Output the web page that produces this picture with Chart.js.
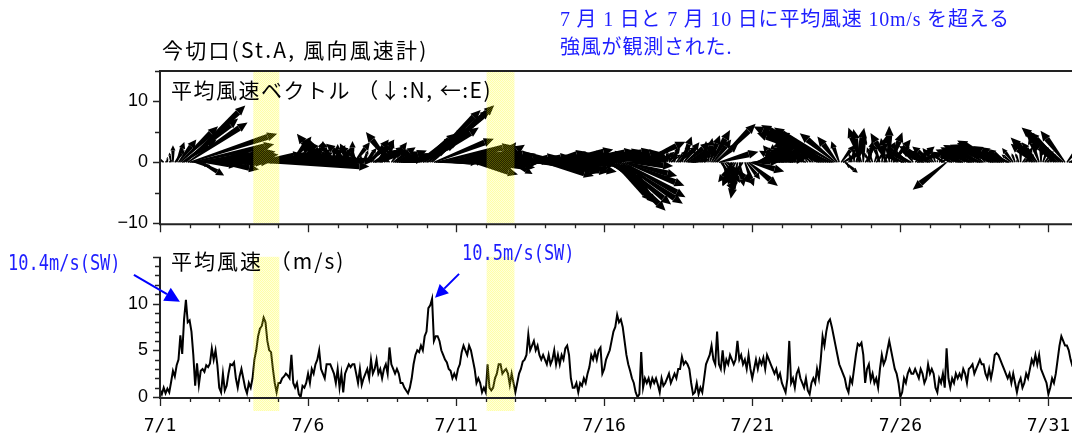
<!DOCTYPE html>
<html lang="ja">
<head>
<meta charset="utf-8">
<title>今切口 風向風速</title>
<script src="https://cdn.jsdelivr.net/npm/chart.js@4.4.0/dist/chart.umd.min.js"></script>
<style>
  html, body { margin: 0; padding: 0; background: #fff; }
  body { width: 1072px; height: 435px; overflow: hidden; position: relative;
         font-family: "Noto Sans CJK JP", sans-serif; }
  canvas { position: absolute; left: 0; }
  #vec { top: 0; }
  #spd { top: 234px; }
  .t { position: absolute; white-space: pre; color: #000; line-height: 1; }
  .title { left: 162px; top: 39px; font-size: 21px; letter-spacing: 2.2px; }
  .vtitle { left: 171px; top: 79px; font-size: 21px; letter-spacing: 1.5px; }
  .stitle { left: 171px; top: 250px; font-size: 21px; letter-spacing: 2px; }
  .note { left: 560px; top: 5px; font-size: 20px; line-height: 28px; color: #1e1eff;
          letter-spacing: 0.8px; font-family: "Liberation Serif", "Noto Sans CJK JP", serif; }
  .peak { font-family: "DejaVu Sans Mono", monospace; font-size: 17px; color: #1e1eff;
          transform: scale(1, 1.2); transform-origin: 0 0; }
  .p1 { left: 8px; top: 253px; }
  .p2 { left: 462px; top: 243px; }
</style>
</head>
<body>
<canvas id="vec" width="1090" height="246"></canvas>
<canvas id="spd" width="1090" height="201"></canvas>

<div class="t title">今切口(St.A, 風向風速計)</div>
<div class="t vtitle">平均風速ベクトル （↓:N, ←:E)</div>
<div class="t stitle">平均風速 （m/s)</div>
<div class="t note">7 月 1 日と 7 月 10 日に平均風速 10m/s を超える
強風が観測された.</div>
<div class="t peak p1">10.4m/s(SW)</div>
<div class="t peak p2">10.5m/s(SW)</div>

<script>
// 1.5-hourly mean wind speed (m/s), one row per day from 7/1
const windSpeed = [
  0.8,0.3,1.0,0.4,0.9,0.5,1.6,2.8,2.2,3.4,4.0,6.6,4.6,8.3,10.4,8.0,
  8.2,7.0,4.5,1.2,3.6,1.3,2.8,3.0,2.7,3.4,3.2,3.6,5.2,4.0,5.0,3.4,
  1.0,0.5,2.5,0.7,1.2,2.5,3.5,3.4,3.7,2.0,1.0,2.2,3.0,2.0,1.0,0.4,
  1.5,1.0,2.0,4.0,5.0,6.5,7.3,7.6,8.5,8.0,6.0,5.0,4.8,3.0,1.5,0.5,
  1.5,1.5,2.0,2.2,2.5,2.3,2.0,4.5,1.5,1.0,1.5,0.3,0.0,1.2,1.0,1.5,
  2.5,1.5,3.0,2.5,3.5,4.0,5.0,3.0,2.5,2.0,3.5,3.5,3.5,3.0,2.5,1.5,
  3.0,1.0,2.5,0.5,2.5,3.0,3.5,3.2,3.5,3.5,2.5,1.5,3.0,1.3,2.0,2.5,
  3.0,2.0,4.0,2.5,3.0,4.0,2.5,3.0,2.0,3.0,3.5,2.5,5.3,3.5,3.0,2.5,
  3.0,2.5,1.5,1.5,1.0,0.7,0.4,1.0,2.0,3.5,4.5,5.0,4.8,5.5,5.0,6.5,
  7.0,9.5,9.8,10.5,6.0,6.5,6.5,6.0,5.0,4.5,4.0,3.7,3.0,2.8,2.0,2.5,
  2.0,3.0,3.5,4.8,5.5,5.0,4.5,5.5,5.0,4.0,3.0,1.5,2.0,1.5,0.5,1.0,
  0.5,3.5,1.0,0.7,1.0,2.0,2.5,3.5,3.5,2.5,2.8,3.0,2.5,1.3,2.5,1.5,
  0.5,1.5,2.5,3.0,3.8,4.0,4.5,6.7,5.0,5.5,6.0,5.0,5.5,4.5,4.0,4.5,
  4.0,3.5,4.5,3.5,4.0,5.0,3.5,4.5,3.5,4.5,4.0,5.2,5.5,4.5,2.0,1.0,
  1.0,1.5,0.5,1.5,1.2,2.0,1.5,2.5,3.2,4.5,4.0,4.8,4.0,5.0,5.3,2.5,
  3.0,4.0,4.5,5.0,6.0,7.0,7.5,8.8,8.0,8.3,7.5,6.0,4.5,3.5,2.8,2.0,
  1.5,0.5,0.0,0.3,4.8,1.0,2.0,1.5,2.0,1.2,2.0,1.5,2.0,1.3,0.5,2.0,
  1.2,1.5,2.0,2.5,1.5,2.0,2.5,2.0,3.0,3.0,4.3,3.5,3.8,3.5,3.0,1.5,
  0.3,0.5,1.5,0.3,1.0,0.5,2.0,3.5,4.0,4.5,5.5,4.0,3.5,7.0,3.5,3.0,
  5.0,3.0,4.0,3.5,4.5,4.0,3.5,4.0,6.0,4.0,4.5,3.5,4.0,3.0,4.5,3.0,
  2.0,3.0,4.0,3.0,4.0,3.5,4.2,3.0,4.5,4.0,3.5,3.0,2.5,3.0,2.0,2.5,
  1.5,1.0,0.5,2.0,6.0,1.5,2.0,1.0,2.5,3.0,2.0,1.5,1.0,2.0,0.7,0.3,
  1.5,2.0,1.5,3.0,2.0,4.0,6.5,5.5,7.0,8.0,8.3,7.5,6.5,5.5,4.5,3.5,
  3.0,2.5,2.0,1.0,0.5,2.0,1.5,3.0,4.5,5.7,5.5,5.8,4.5,1.5,3.0,3.5,
  1.8,2.5,1.5,2.0,1.0,3.0,4.5,3.5,4.0,5.0,6.0,5.0,4.0,3.0,2.5,1.5,
  0.0,0.5,2.0,1.5,2.5,3.0,2.5,2.5,3.0,2.5,2.0,3.0,2.5,1.5,2.0,3.5,
  2.5,3.0,2.5,1.0,0.5,2.0,1.5,2.5,1.0,5.2,2.0,1.0,2.0,1.5,2.5,2.0,
  2.5,2.0,3.0,2.5,1.5,3.0,3.2,3.5,2.5,3.0,3.5,4.0,3.5,3.5,2.5,2.0,
  3.0,2.0,3.0,4.5,4.7,4.5,4.0,3.5,3.0,2.5,2.0,2.5,1.5,2.5,1.5,0.5,
  1.5,2.0,1.0,1.5,2.5,2.0,3.0,4.0,3.5,4.5,3.5,4.5,3.0,2.5,2.0,1.5,
  0.3,1.0,2.0,1.5,2.5,4.0,5.5,6.5,6.0,5.5,5.5,5.0,4.0,3.3,3.0,3.5
];

// 1.5-hourly wind direction (degrees, blowing from; N = 0, E = 90), one row per day
const windDir = [
  170,190,150,200,180,210,175,180,200,190,200,206,215,210,206,215,
  235,245,260,300,255,310,320,265,280,250,260,245,250,270,255,290,
  280,260,240,300,250,235,240,250,225,260,290,250,235,270,300,250,
  250,240,255,250,260,265,265,270,268,275,265,260,255,250,240,260,
  240,230,220,250,235,230,215,200,240,260,250,230,230,240,220,210,
  230,220,200,210,190,170,160,150,170,190,160,150,170,200,180,160,
  180,200,170,160,190,170,150,165,180,200,170,160,150,175,190,200,
  210,190,200,220,230,200,215,225,200,210,190,170,160,200,215,225,
  230,240,250,260,240,220,200,210,220,230,225,215,220,210,215,210,
  215,205,208,207,230,245,255,260,265,270,260,250,255,265,270,260,
  250,240,245,250,255,260,265,270,280,300,290,260,250,270,240,250,
  250,220,240,260,300,250,230,215,200,220,240,250,270,300,320,290,
  300,310,260,250,255,260,265,270,275,280,285,260,255,265,280,300,
  250,240,260,270,255,245,260,275,300,290,270,255,250,265,280,300,
  260,240,220,230,250,240,230,235,240,250,255,245,240,250,260,300,
  300,310,320,325,330,335,335,335,330,325,320,310,300,280,260,250,
  240,230,220,210,225,215,230,240,220,210,200,215,230,240,220,210,
  200,190,180,200,210,190,185,200,210,195,190,200,210,220,230,250,
  240,220,200,190,210,200,190,180,185,190,195,200,210,205,240,340,
  350,340,330,345,355,10,20,15,5,355,10,20,350,340,330,300,
  270,250,230,220,240,260,250,230,210,200,190,180,170,160,150,140,
  150,140,160,150,165,140,135,150,160,170,180,160,150,140,160,170,
  150,160,170,150,140,145,145,140,145,140,135,130,140,150,160,170,
  200,220,330,350,200,190,170,180,190,185,175,170,180,200,190,185,
  160,170,190,200,180,170,185,195,175,165,180,190,200,170,160,150,
  150,140,130,145,150,140,135,160,210,230,200,150,140,130,150,140,
  140,150,160,170,180,200,220,150,140,30,160,150,140,150,160,140,
  140,130,135,150,160,140,130,135,145,150,140,135,130,145,160,170,
  150,140,135,130,140,135,130,140,145,150,140,130,150,160,170,180,
  170,180,200,210,190,180,170,160,150,155,160,170,180,190,200,210,
  200,190,170,160,150,150,155,152,150,160,200,230,250,260,250,240
];

const samplesPerDay = 16;
const dayCount = 31;                       // 7/1 00:00 to 8/1 00:00
const tickDays = [1, 6, 11, 16, 21, 26, 31];
// periods shaded in yellow (days since 7/1 00:00)
const shadeSpans = [[3.15, 4.03], [11.03, 11.97]];
// peaks marked with a blue arrow: search range in days, pixel offsets of tip and tail
const peakNotes = [
  { from: 0, to: 2,  dx: -6, dy: 2,  tx: -46, ty: -27, head: 15 },
  { from: 8, to: 10, dx: 3,  dy: -1, tx: 24,  ty: -24, head: 13 }
];

// horizontal length of a vector, in days per m/s
const vecDaysPerMs = 0.44;

const times = windSpeed.map((_, i) => i / samplesPerDay);
const speedPoints = windSpeed.map((v, i) => ({ x: times[i], y: v }));
const vectorPoints = windSpeed.map((s, i) => {
  const d = windDir[i] * Math.PI / 180;
  const u = -s * Math.sin(d), v = -s * Math.cos(d);
  return { x: times[i], y: 0, tx: times[i] + u * vecDaysPerMs, ty: v };
});

function shadePattern(ctx) {
  const c = document.createElement('canvas');
  c.width = 2; c.height = 2;
  const g = c.getContext('2d');
  g.fillStyle = 'rgba(255,255,0,0.34)';
  g.fillRect(0, 0, 1, 1); g.fillRect(1, 1, 1, 1);
  g.fillStyle = 'rgba(255,255,0,0.14)';
  g.fillRect(1, 0, 1, 1); g.fillRect(0, 1, 1, 1);
  return ctx.createPattern(c, 'repeat');
}

const vectorArrows = {
  id: 'vectorArrows',
  afterDatasetsDraw(chart) {
    const { ctx, chartArea: a, scales: { x, y } } = chart;
    ctx.save();
    ctx.beginPath();
    ctx.rect(a.left, a.top, a.right - a.left, a.bottom - a.top);
    ctx.clip();
    ctx.fillStyle = '#000';
    chart.data.datasets[0].data.forEach(p => {
      const x0 = x.getPixelForValue(p.x), y0 = y.getPixelForValue(0);
      const x1 = x.getPixelForValue(p.tx), y1 = y.getPixelForValue(p.ty);
      const dx = x1 - x0, dy = y1 - y0, len = Math.hypot(dx, dy);
      if (len < 1) return;
      const ux = dx / len, uy = dy / len;
      const h = Math.min(10, len * 0.3), w = Math.min(4.5, h * 0.5);
      const sw = Math.min(3, 0.5 + len * 0.07);
      const bx = x1 - ux * h, by = y1 - uy * h;
      // leaf-shaped shaft, widest under the head
      ctx.beginPath();
      ctx.moveTo(x0 + uy * 0.7, y0 - ux * 0.7);
      ctx.lineTo(bx + uy * sw, by - ux * sw);
      ctx.lineTo(bx - uy * sw, by + ux * sw);
      ctx.lineTo(x0 - uy * 0.7, y0 + ux * 0.7);
      ctx.closePath();
      ctx.fill();
      ctx.beginPath();
      ctx.moveTo(x1, y1);
      ctx.lineTo(bx + uy * w, by - ux * w);
      ctx.lineTo(bx - uy * w, by + ux * w);
      ctx.closePath();
      ctx.fill();
    });
    ctx.restore();
  }
};

function shading(extraBelow) {
  return {
    id: 'shading',
    afterDatasetsDraw(chart) {
      const { ctx, chartArea: a, scales: { x } } = chart;
      ctx.save();
      ctx.fillStyle = shadePattern(ctx);
      shadeSpans.forEach(([s, e]) => {
        const x0 = x.getPixelForValue(s), x1 = x.getPixelForValue(e);
        ctx.fillRect(x0, a.top, x1 - x0, a.bottom - a.top + extraBelow);
      });
      ctx.restore();
    }
  };
}

function frame(opts) {
  return {
    id: 'frame',
    afterDatasetsDraw(chart) {
      const { ctx, chartArea: a, scales: { x, y } } = chart;
      ctx.save();
      ctx.strokeStyle = '#222';
      ctx.lineWidth = 2;
      ctx.beginPath();
      ctx.moveTo(a.left, a.top - (opts.top ? 1 : 0));
      ctx.lineTo(a.left, a.bottom + 1);
      ctx.lineTo(a.right, a.bottom + 1);
      if (opts.top) {
        ctx.moveTo(a.left - 1, a.top);
        ctx.lineTo(a.right, a.top);
      }
      ctx.stroke();
      ctx.lineWidth = 1.3;
      ctx.beginPath();
      for (let d = 0; d <= dayCount; d++) {
        const px = Math.round(x.getPixelForValue(d)) + 0.5;
        ctx.moveTo(px, a.bottom + 1);
        ctx.lineTo(px, a.bottom + 1 + (d % 5 === 0 ? 8 : 4));
      }
      for (let v = y.min; v <= y.max; v += opts.minorStep) {
        const py = Math.round(y.getPixelForValue(v)) + 0.5;
        const major = v % opts.majorStep === 0;
        ctx.moveTo(a.left - 1, py);
        ctx.lineTo(a.left - 1 - (major ? 6 : 4), py);
      }
      ctx.stroke();
      ctx.restore();
    }
  };
}

const peakArrows = {
  id: 'peakArrows',
  afterDatasetsDraw(chart) {
    const { ctx, scales: { x, y } } = chart;
    ctx.save();
    ctx.strokeStyle = '#0000ff';
    ctx.fillStyle = '#0000ff';
    ctx.lineWidth = 2;
    peakNotes.forEach(n => {
      let best = -1;
      windSpeed.forEach((v, i) => {
        if (times[i] >= n.from && times[i] < n.to && (best < 0 || v > windSpeed[best])) best = i;
      });
      const tipX = x.getPixelForValue(times[best]) + n.dx;
      const tipY = y.getPixelForValue(windSpeed[best]) + n.dy;
      const tailX = tipX + n.tx, tailY = tipY + n.ty;
      const len = Math.hypot(n.tx, n.ty), ux = -n.tx / len, uy = -n.ty / len;
      const bx = tipX - ux * n.head, by = tipY - uy * n.head, w = n.head * 0.5;
      ctx.beginPath();
      ctx.moveTo(tailX, tailY);
      ctx.lineTo(bx, by);
      ctx.stroke();
      ctx.beginPath();
      ctx.moveTo(tipX, tipY);
      ctx.lineTo(bx + uy * w, by - ux * w);
      ctx.lineTo(bx - uy * w, by + ux * w);
      ctx.closePath();
      ctx.fill();
    });
    ctx.restore();
  }
};

const tickFont = { family: '"Liberation Sans", Arial, sans-serif', size: 18 };
const dayTicks = tickDays.map(d => ({ value: d - 1 }));

function xScale(showLabels, height) {
  return {
    type: 'linear', min: 0, max: dayCount,
    grid: { display: false, drawTicks: false }, border: { display: false },
    afterBuildTicks: s => { s.ticks = dayTicks.map(t => ({ ...t })); },
    afterFit: s => { s.height = height; },
    ticks: {
      display: showLabels, padding: 19, color: '#000', maxRotation: 0, autoSkip: false,
      font: { family: '"DejaVu Sans Mono", monospace', size: 18 },
      callback: v => '7/' + (v + 1)
    }
  };
}

function yScale(min, max, labels) {
  return {
    type: 'linear', min, max,
    grid: { display: false, drawTicks: false }, border: { display: false },
    afterBuildTicks: s => { s.ticks = labels.map(v => ({ value: v })); },
    afterFit: s => { s.width = 160; },
    ticks: {
      padding: 12, color: '#000', font: tickFont,
      callback: v => v < 0 ? '\u2212' + Math.abs(v) : String(v)
    }
  };
}

Chart.defaults.animation = false;

new Chart(document.getElementById('vec'), {
  type: 'scatter',
  data: { datasets: [{ data: vectorPoints, pointRadius: 0, showLine: false }] },
  options: {
    responsive: false, devicePixelRatio: 1,
    layout: { padding: { top: 71, right: 12, left: 0, bottom: 0 } },
    plugins: { legend: { display: false }, tooltip: { enabled: false } },
    scales: { x: xScale(false, 12), y: yScale(-10, 15, [-10, 0, 10]) }
  },
  plugins: [vectorArrows, shading(0), frame({ top: true, minorStep: 5, majorStep: 10 })]
});

new Chart(document.getElementById('spd'), {
  type: 'line',
  data: { datasets: [{ data: speedPoints, borderColor: '#000', borderWidth: 2,
                       pointRadius: 0, tension: 0, fill: false }] },
  options: {
    responsive: false, devicePixelRatio: 1,
    layout: { padding: { top: 0, right: 12, left: 0, bottom: 0 } },
    plugins: { legend: { display: false }, tooltip: { enabled: false } },
    scales: { x: xScale(true, 38), y: yScale(0, 15, [0, 5, 10]) }
  },
  plugins: [shading(14), frame({ top: false, minorStep: 1, majorStep: 5 }), peakArrows]
});
</script>
</body>
</html>
